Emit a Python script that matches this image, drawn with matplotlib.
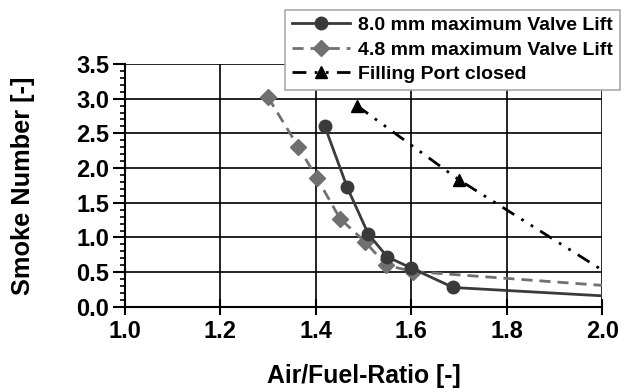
import numpy as np
import matplotlib
matplotlib.use("Agg")
import matplotlib.pyplot as plt
from matplotlib.ticker import MultipleLocator

plt.rcParams['font.family'] = ['Liberation Sans', 'DejaVu Sans']
plt.rcParams['font.weight'] = 'bold'

# 8.0 mm maximum valve lift
lam_80 = [1.419, 1.466, 1.510, 1.550, 1.600, 1.688, 2.0]
sn_80 = [2.60, 1.72, 1.05, 0.72, 0.56, 0.28, 0.16]

# 4.8 mm maximum valve lift
lam_48 = [1.300, 1.363, 1.403, 1.451, 1.503, 1.548, 1.604, 2.0]
sn_48 = [3.02, 2.31, 1.85, 1.27, 0.94, 0.60, 0.51, 0.31]

# filling port closed
lam_fp = [1.486, 1.700, 2.0]
sn_fp = [2.90, 1.83, 0.53]

fig = plt.figure(figsize=(6.3, 3.92), dpi=100)
ax = fig.add_axes([0.198, 0.217, 0.758, 0.620])

ax.plot(lam_80, sn_80, color='#3a3a3a', lw=2, marker='o', ms=9,
        markevery=list(range(len(lam_80) - 1)), label='8.0 mm maximum Valve Lift', zorder=4)
ax.plot(lam_48, sn_48, color='#707070', lw=2, ls=(0, (4, 2.5)), marker='D', ms=8,
        markevery=list(range(len(lam_48) - 1)), label='4.8 mm maximum Valve Lift', zorder=3)
ax.plot(lam_fp, sn_fp, color='black', lw=2, ls=(0, (5, 3, 1, 3, 1, 3)), marker='^', ms=8.5,
        markevery=[0, 1], label='Filling Port closed', zorder=3)

ax.set_xlim(1.0, 2.0)
ax.set_ylim(0.0, 3.5)
ax.xaxis.set_major_locator(MultipleLocator(0.2))
ax.yaxis.set_major_locator(MultipleLocator(0.5))
ax.yaxis.set_minor_locator(MultipleLocator(0.1))
ax.xaxis.set_major_formatter(plt.FormatStrFormatter('%.1f'))
ax.yaxis.set_major_formatter(plt.FormatStrFormatter('%.1f'))
ax.grid(True, which='major', color='black', lw=1.2)
ax.tick_params(axis='x', which='major', direction='inout', length=11.5, width=1.5, labelsize=17, pad=4)
ax.tick_params(axis='y', which='major', direction='out', length=9, width=1.5, labelsize=17, pad=2)
ax.tick_params(axis='y', which='minor', direction='out', length=3.5, width=1.2)
for side in ['top', 'right']:
    ax.spines[side].set_visible(False)
for side in ['left', 'bottom']:
    ax.spines[side].set_linewidth(1.5)

ax.set_xlabel('Air/Fuel-Ratio [-]', fontsize=17.8, fontweight='bold', labelpad=15)
ax.set_ylabel('Smoke Number [-]', fontsize=18.3, fontweight='bold', labelpad=30)

leg = fig.legend(loc='upper right', bbox_to_anchor=(0.999, 1.0), fontsize=14,
                 handlelength=3.0, handletextpad=0.4, borderpad=0.35, labelspacing=0.35,
                 fancybox=False, framealpha=1, edgecolor='#aaaaaa')
leg.get_frame().set_linewidth(1.2)

fig.savefig('out.png', dpi=100)
